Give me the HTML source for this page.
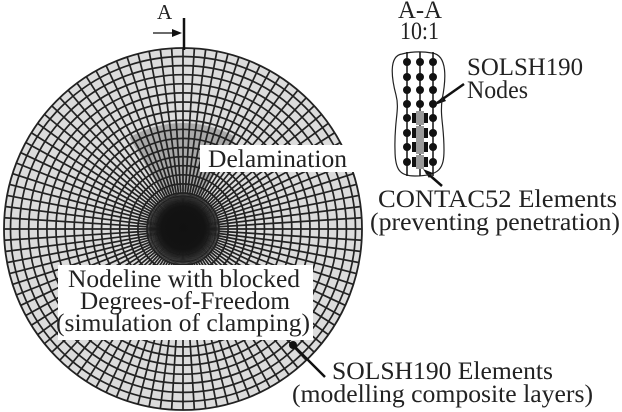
<!DOCTYPE html>
<html><head><style>
body{margin:0;background:#fff;width:622px;height:412px;overflow:hidden;font-family:"Liberation Serif",serif;}
svg{position:absolute;left:0;top:0}
</style></head><body>
<svg id="s" width="622" height="412" viewBox="0 0 622 412" xmlns="http://www.w3.org/2000/svg">
<defs>
<radialGradient id="core"><stop offset="0" stop-color="#111"/><stop offset="0.6" stop-color="#131313"/><stop offset="1" stop-color="#1a1a1a" stop-opacity="0"/></radialGradient>
<clipPath id="cc"><ellipse cx="183" cy="229" rx="179" ry="181"/></clipPath>
</defs>
<ellipse cx="183" cy="229" rx="179" ry="181" fill="#dcdcdc"/>
<path id="delam" fill="#a8a8a8"/>
<g id="mesh" clip-path="url(#cc)" stroke="#222" fill="none"></g>
<ellipse cx="183" cy="229" rx="179" ry="181" fill="none" stroke="#222" stroke-width="1.8"/>
<circle cx="183" cy="228" r="36" fill="url(#core)"/>
<g id="texts" font-family="Liberation Serif, serif" font-size="25" fill="#222">
<rect x="200" y="145" width="155" height="27" fill="#fff"/>
<text x="208" y="167" textLength="139" lengthAdjust="spacingAndGlyphs">Delamination</text>
<rect x="58" y="265" width="255" height="75" fill="#fff"/>
<text x="68" y="287" textLength="232" lengthAdjust="spacingAndGlyphs">Nodeline with blocked</text>
<text x="80" y="309" textLength="210" lengthAdjust="spacingAndGlyphs">Degrees-of-Freedom</text>
<text x="56" y="331" textLength="254" lengthAdjust="spacingAndGlyphs">(simulation of clamping)</text>
<text x="332" y="379" textLength="221" lengthAdjust="spacingAndGlyphs">SOLSH190 Elements</text>
<text x="292" y="402" textLength="301" lengthAdjust="spacingAndGlyphs">(modelling composite layers)</text>
<text x="157" y="19" font-size="21">A</text>
<text x="398" y="18" textLength="44" lengthAdjust="spacingAndGlyphs">A-A</text>
<text x="400" y="39" textLength="39" lengthAdjust="spacingAndGlyphs">10:1</text>
<text x="467" y="75" textLength="116" lengthAdjust="spacingAndGlyphs">SOLSH190</text>
<text x="467" y="98" textLength="61" lengthAdjust="spacingAndGlyphs">Nodes</text>
<text x="378" y="207" textLength="239" lengthAdjust="spacingAndGlyphs">CONTAC52 Elements</text>
<text x="370" y="230" textLength="250" lengthAdjust="spacingAndGlyphs">(preventing penetration)</text>
</g>
<g stroke="#111" stroke-width="2.5">
<line x1="184" y1="18" x2="184" y2="50"/>
<line x1="293" y1="345" x2="325" y2="377"/>
<line x1="437" y1="103" x2="464" y2="84"/>
<line x1="426" y1="172" x2="442" y2="186"/>
</g>
<circle cx="293" cy="345" r="4" fill="#111"/>
<line x1="153" y1="33" x2="174" y2="33" stroke="#111" stroke-width="1.2"/>
<polygon points="182,33 172,29 172,37" fill="#111"/>
<polygon points="435,105 443,96 446,101" fill="#111"/>
<polygon points="423,169 433,173 429,178" fill="#111"/>
<path d="M402,54 C388,56 392,80 396,95 C400,110 394,120 395,150 C395,170 400,176 415,176 C440,176 444,168 444,150 C444,125 440,118 442,100 C446,80 448,55 432,53 C420,51 410,52 402,54 Z" fill="none" stroke="#222" stroke-width="1.2"/>
<g id="cs"></g>
</svg>
<script>
const NS="http://www.w3.org/2000/svg";
const cx=183,cy=229,R=181;
const m=document.getElementById('mesh');
function el(t,a,p){const e=document.createElementNS(NS,t);for(const k in a)e.setAttribute(k,a[k]);p.appendChild(e);return e;}
for(let r=36;r<R;r+=9.1){el('circle',{cx,cy,r,'stroke-width':1.7},m);}
for(let r=12;r<36;r+=7){el('circle',{cx,cy,r,'stroke-width':1},m);}
const N=100;
for(let i=0;i<N;i++){const a=i/N*2*Math.PI;
el('line',{x1:cx+36*Math.cos(a),y1:cy+36*Math.sin(a),x2:cx+R*Math.cos(a),y2:cy+R*Math.sin(a),'stroke-width':1.7},m);}
for(let i=0;i<200;i++){const a=i/200*2*Math.PI;
el('line',{x1:cx,y1:cy,x2:cx+36*Math.cos(a),y2:cy+36*Math.sin(a),'stroke-width':0.9},m);}
(function(){const a1=-2.1,a2=-1.05,r1=38,r2=106;
const p=(r,a)=>(cx+r*Math.cos(a)).toFixed(1)+','+(cy+r*Math.sin(a)).toFixed(1);
document.getElementById('delam').setAttribute('d',`M${p(r1,a1)} L${p(r2,a1)} A${r2},${r2} 0 0 1 ${p(r2,a2)} L${p(r1,a2)} A${r1},${r1} 0 0 0 ${p(r1,a1)}Z`);})();
const cs=document.getElementById('cs');
const xs=[407,420,433],ys=[62,77,90,104,118,133,147,162];
xs.forEach(x=>el('line',{x1:x,y1:52,x2:x,y2:176,stroke:'#111','stroke-width':1.5},cs));
ys.forEach((y,j)=>{xs.forEach((x,i)=>{
 if(j>=4&&i==1){el('rect',{x:x-4,y:y-7,width:8,height:14,fill:'#999'},cs);el('rect',{x:x-8,y:y-5,width:4,height:10,fill:'#111'},cs);el('rect',{x:x+4,y:y-5,width:4,height:10,fill:'#111'},cs);}
 else el('circle',{cx:x,cy:y,r:4,fill:'#111'},cs);});});
</script>
</body></html>
